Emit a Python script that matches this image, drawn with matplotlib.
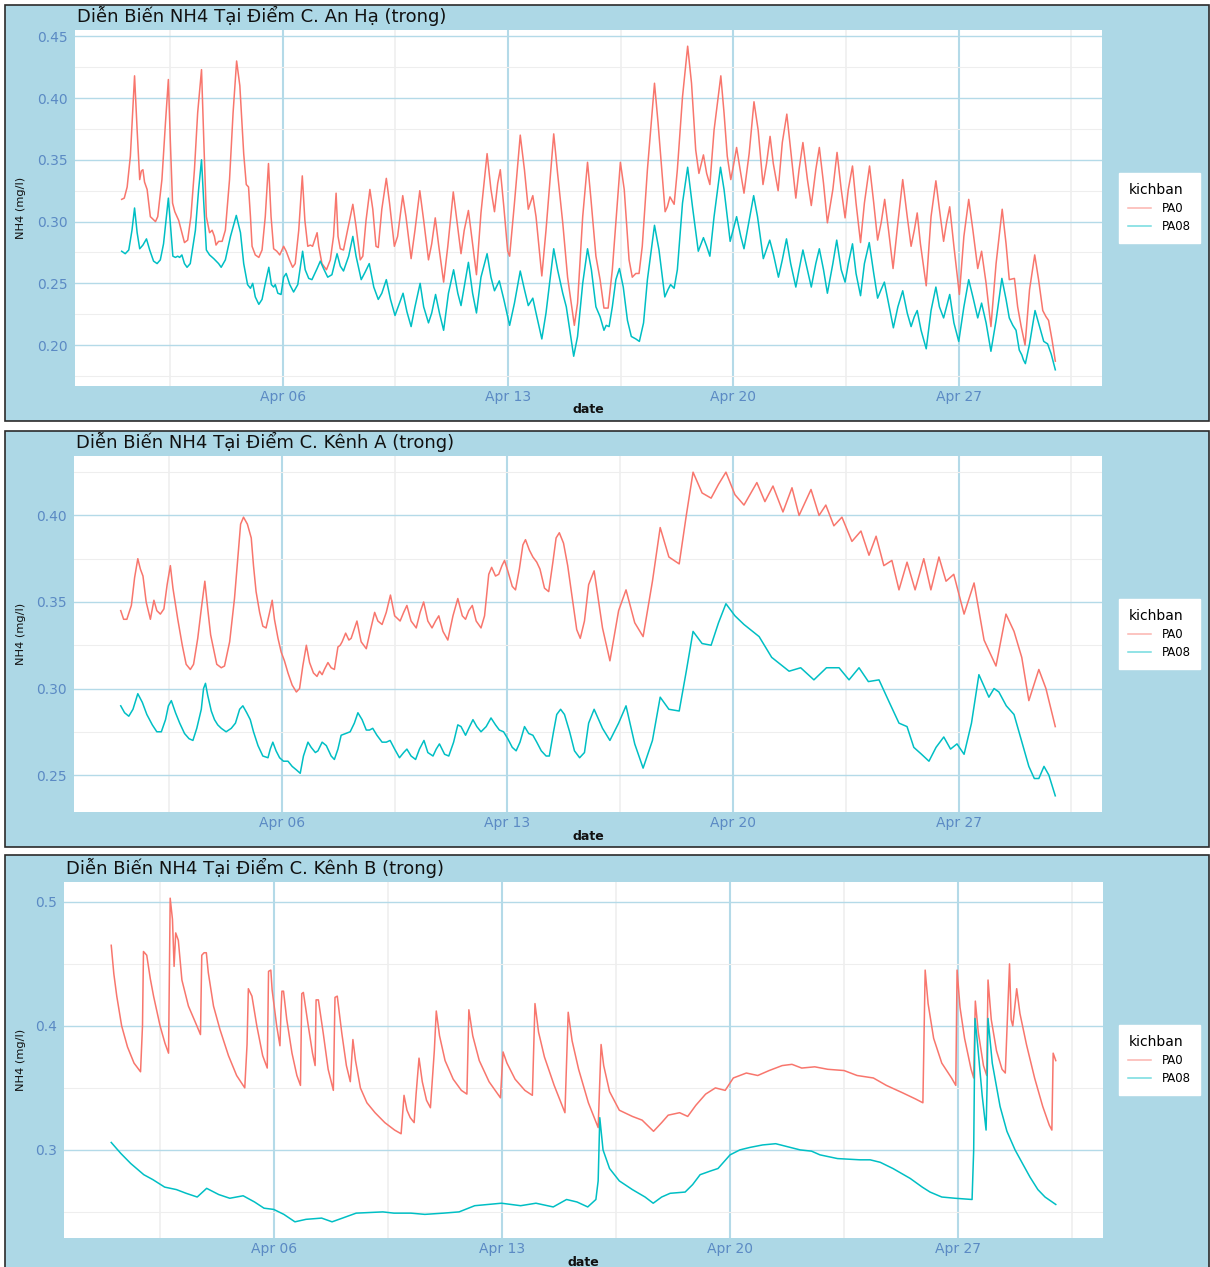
import matplotlib
matplotlib.use("Agg")
import matplotlib.pyplot as plt
import pandas as pd
import matplotlib.dates as mdates
from matplotlib.lines import Line2D
from matplotlib.patches import Rectangle
from matplotlib.ticker import FixedLocator, FormatStrFormatter, MultipleLocator

# (days since 1 April, NH4 mg/l) for each station / scenario
START = pd.Timestamp("2023-04-01")

an_ha_pa0 = [
    (0.00, 0.318), (0.08, 0.319), (0.17, 0.328), (0.27, 0.353), (0.40, 0.418), (0.48, 0.374),
    (0.56, 0.334), (0.61, 0.341), (0.66, 0.342), (0.71, 0.332), (0.79, 0.326), (0.89, 0.304),
    (0.97, 0.302), (1.05, 0.300), (1.12, 0.304), (1.25, 0.334), (1.36, 0.380), (1.45, 0.415),
    (1.51, 0.366), (1.58, 0.315), (1.65, 0.308), (1.77, 0.301), (1.87, 0.291), (1.95, 0.283),
    (2.05, 0.285), (2.15, 0.304), (2.26, 0.342), (2.36, 0.388), (2.48, 0.423), (2.55, 0.366),
    (2.63, 0.304), (2.73, 0.291), (2.81, 0.293), (2.88, 0.288), (2.93, 0.281), (3.01, 0.284),
    (3.12, 0.284), (3.22, 0.293), (3.35, 0.334), (3.46, 0.388), (3.57, 0.430), (3.67, 0.410),
    (3.79, 0.355), (3.87, 0.330), (3.94, 0.328), (4.00, 0.304), (4.05, 0.280), (4.15, 0.273),
    (4.26, 0.271), (4.36, 0.277), (4.46, 0.304), (4.56, 0.347), (4.64, 0.304), (4.72, 0.278),
    (4.82, 0.276), (4.91, 0.273), (5.03, 0.280), (5.11, 0.276), (5.21, 0.269), (5.31, 0.263),
    (5.39, 0.266), (5.50, 0.293), (5.61, 0.337), (5.69, 0.301), (5.78, 0.280), (5.86, 0.281),
    (5.93, 0.280), (6.07, 0.291), (6.12, 0.280), (6.22, 0.266), (6.36, 0.261), (6.48, 0.269),
    (6.58, 0.288), (6.66, 0.323), (6.72, 0.288), (6.79, 0.278), (6.89, 0.277), (7.00, 0.291),
    (7.18, 0.314), (7.28, 0.296), (7.41, 0.269), (7.49, 0.272), (7.59, 0.301), (7.71, 0.326),
    (7.80, 0.310), (7.90, 0.280), (7.97, 0.279), (8.08, 0.310), (8.22, 0.335), (8.32, 0.315),
    (8.47, 0.280), (8.57, 0.288), (8.73, 0.321), (8.83, 0.304), (8.99, 0.270), (9.11, 0.293),
    (9.26, 0.325), (9.38, 0.301), (9.53, 0.269), (9.63, 0.282), (9.74, 0.303), (9.85, 0.280),
    (10.00, 0.251), (10.13, 0.280), (10.30, 0.324), (10.42, 0.299), (10.54, 0.274), (10.64, 0.293),
    (10.77, 0.309), (10.87, 0.288), (11.02, 0.257), (11.16, 0.307), (11.35, 0.355), (11.47, 0.326),
    (11.58, 0.308), (11.68, 0.331), (11.76, 0.342), (11.87, 0.312), (11.99, 0.276), (12.05, 0.272),
    (12.20, 0.315), (12.38, 0.370), (12.51, 0.342), (12.63, 0.310), (12.77, 0.321), (12.87, 0.304),
    (13.05, 0.256), (13.18, 0.293), (13.42, 0.371), (13.54, 0.339), (13.70, 0.299), (13.85, 0.255),
    (14.06, 0.216), (14.16, 0.234), (14.32, 0.304), (14.47, 0.348), (14.57, 0.320), (14.73, 0.272),
    (14.86, 0.253), (14.98, 0.230), (15.11, 0.230), (15.24, 0.261), (15.35, 0.299), (15.49, 0.348),
    (15.61, 0.326), (15.76, 0.269), (15.86, 0.255), (15.97, 0.258), (16.07, 0.258), (16.17, 0.280),
    (16.33, 0.342), (16.55, 0.412), (16.66, 0.380), (16.80, 0.334), (16.88, 0.308), (16.95, 0.312),
    (17.03, 0.320), (17.16, 0.314), (17.26, 0.342), (17.42, 0.401), (17.58, 0.442), (17.70, 0.412),
    (17.83, 0.358), (17.93, 0.339), (18.07, 0.354), (18.17, 0.339), (18.27, 0.330), (18.40, 0.374),
    (18.61, 0.418), (18.71, 0.388), (18.81, 0.353), (18.92, 0.334), (19.00, 0.345), (19.10, 0.360),
    (19.21, 0.342), (19.33, 0.323), (19.49, 0.355), (19.64, 0.397), (19.77, 0.374), (19.92, 0.330),
    (20.03, 0.347), (20.14, 0.369), (20.24, 0.347), (20.39, 0.325), (20.52, 0.364), (20.66, 0.387),
    (20.78, 0.358), (20.94, 0.319), (21.04, 0.342), (21.16, 0.364), (21.30, 0.334), (21.42, 0.313),
    (21.56, 0.342), (21.67, 0.360), (21.80, 0.331), (21.92, 0.299), (22.09, 0.326), (22.22, 0.356),
    (22.35, 0.326), (22.47, 0.303), (22.57, 0.326), (22.70, 0.345), (22.81, 0.315), (22.95, 0.283),
    (23.07, 0.315), (23.23, 0.345), (23.36, 0.315), (23.48, 0.285), (23.59, 0.299), (23.70, 0.318),
    (23.82, 0.293), (23.96, 0.262), (24.11, 0.299), (24.26, 0.334), (24.40, 0.304), (24.52, 0.280),
    (24.62, 0.293), (24.71, 0.307), (24.81, 0.282), (24.99, 0.248), (25.14, 0.304), (25.29, 0.333),
    (25.40, 0.310), (25.53, 0.284), (25.62, 0.299), (25.72, 0.312), (25.85, 0.280), (26.02, 0.241),
    (26.16, 0.288), (26.31, 0.318), (26.44, 0.293), (26.59, 0.262), (26.71, 0.276), (26.85, 0.250),
    (27.00, 0.215), (27.16, 0.266), (27.35, 0.310), (27.47, 0.282), (27.57, 0.253), (27.73, 0.254),
    (27.83, 0.231), (27.94, 0.215), (28.06, 0.200), (28.20, 0.245), (28.36, 0.273), (28.48, 0.253),
    (28.61, 0.228), (28.71, 0.223), (28.79, 0.220), (28.90, 0.204), (29.00, 0.187),
]

an_ha_pa08 = [
    (0.00, 0.276), (0.11, 0.274), (0.22, 0.277), (0.32, 0.293), (0.40, 0.311), (0.48, 0.291),
    (0.56, 0.278), (0.66, 0.281), (0.77, 0.286), (0.87, 0.277), (0.99, 0.268), (1.10, 0.266),
    (1.20, 0.269), (1.30, 0.282), (1.45, 0.319), (1.51, 0.299), (1.59, 0.272), (1.67, 0.271),
    (1.74, 0.272), (1.80, 0.271), (1.87, 0.273), (1.95, 0.266), (2.03, 0.263), (2.13, 0.266),
    (2.29, 0.293), (2.39, 0.326), (2.48, 0.350), (2.55, 0.315), (2.63, 0.277), (2.73, 0.273),
    (2.86, 0.270), (3.01, 0.266), (3.09, 0.263), (3.22, 0.269), (3.38, 0.288), (3.56, 0.305),
    (3.69, 0.291), (3.79, 0.266), (3.91, 0.249), (4.00, 0.246), (4.07, 0.250), (4.15, 0.239),
    (4.26, 0.233), (4.36, 0.237), (4.46, 0.250), (4.57, 0.263), (4.65, 0.249), (4.72, 0.247),
    (4.77, 0.249), (4.85, 0.242), (4.95, 0.241), (5.03, 0.255), (5.11, 0.258), (5.22, 0.249),
    (5.34, 0.243), (5.47, 0.249), (5.62, 0.276), (5.70, 0.261), (5.81, 0.254), (5.91, 0.253),
    (6.07, 0.262), (6.17, 0.268), (6.27, 0.262), (6.40, 0.255), (6.53, 0.257), (6.69, 0.274),
    (6.79, 0.264), (6.89, 0.260), (7.05, 0.272), (7.18, 0.288), (7.28, 0.272), (7.44, 0.253),
    (7.56, 0.259), (7.69, 0.266), (7.83, 0.247), (7.97, 0.237), (8.08, 0.242), (8.22, 0.253),
    (8.35, 0.237), (8.49, 0.224), (8.63, 0.234), (8.74, 0.242), (8.86, 0.227), (8.99, 0.215),
    (9.11, 0.231), (9.27, 0.250), (9.38, 0.231), (9.53, 0.218), (9.63, 0.226), (9.75, 0.241),
    (9.87, 0.226), (10.00, 0.212), (10.15, 0.242), (10.31, 0.261), (10.44, 0.242), (10.54, 0.232),
    (10.64, 0.247), (10.77, 0.267), (10.90, 0.242), (11.02, 0.226), (11.16, 0.255), (11.35, 0.274),
    (11.47, 0.255), (11.58, 0.244), (11.73, 0.252), (11.87, 0.237), (12.05, 0.216), (12.20, 0.234),
    (12.38, 0.260), (12.51, 0.245), (12.63, 0.232), (12.77, 0.238), (12.87, 0.226), (13.05, 0.205),
    (13.18, 0.226), (13.42, 0.278), (13.54, 0.261), (13.70, 0.242), (13.81, 0.231), (14.04, 0.191),
    (14.16, 0.207), (14.32, 0.250), (14.47, 0.278), (14.59, 0.261), (14.73, 0.231), (14.86, 0.223),
    (14.98, 0.212), (15.05, 0.216), (15.14, 0.215), (15.24, 0.231), (15.35, 0.253), (15.46, 0.262),
    (15.58, 0.247), (15.71, 0.220), (15.83, 0.207), (15.97, 0.205), (16.08, 0.203), (16.21, 0.218),
    (16.33, 0.253), (16.55, 0.297), (16.69, 0.277), (16.87, 0.239), (16.97, 0.245), (17.05, 0.249),
    (17.16, 0.246), (17.26, 0.261), (17.42, 0.315), (17.58, 0.344), (17.73, 0.312), (17.91, 0.276),
    (18.07, 0.287), (18.17, 0.280), (18.27, 0.272), (18.40, 0.304), (18.60, 0.344), (18.71, 0.326),
    (18.90, 0.284), (19.10, 0.304), (19.23, 0.288), (19.33, 0.278), (19.49, 0.301), (19.63, 0.321),
    (19.75, 0.304), (19.93, 0.270), (20.13, 0.285), (20.24, 0.274), (20.40, 0.255), (20.52, 0.269),
    (20.65, 0.286), (20.78, 0.266), (20.94, 0.247), (21.04, 0.261), (21.16, 0.277), (21.30, 0.261),
    (21.42, 0.247), (21.56, 0.266), (21.67, 0.278), (21.80, 0.261), (21.92, 0.242), (22.09, 0.266),
    (22.21, 0.285), (22.35, 0.261), (22.47, 0.251), (22.57, 0.266), (22.70, 0.282), (22.81, 0.258),
    (22.95, 0.240), (23.07, 0.266), (23.22, 0.283), (23.36, 0.258), (23.48, 0.238), (23.59, 0.245),
    (23.69, 0.251), (23.82, 0.234), (23.97, 0.214), (24.11, 0.231), (24.26, 0.244), (24.40, 0.226),
    (24.52, 0.215), (24.62, 0.223), (24.71, 0.228), (24.83, 0.212), (24.99, 0.197), (25.14, 0.228),
    (25.29, 0.247), (25.40, 0.231), (25.53, 0.222), (25.62, 0.231), (25.72, 0.241), (25.85, 0.218),
    (26.00, 0.203), (26.16, 0.231), (26.31, 0.253), (26.44, 0.239), (26.59, 0.222), (26.71, 0.234),
    (26.85, 0.218), (27.00, 0.195), (27.16, 0.220), (27.34, 0.254), (27.47, 0.237), (27.57, 0.222),
    (27.68, 0.216), (27.78, 0.212), (27.88, 0.196), (27.96, 0.192), (28.01, 0.188), (28.07, 0.185),
    (28.20, 0.201), (28.37, 0.228), (28.51, 0.215), (28.64, 0.203), (28.76, 0.201), (28.87, 0.193),
    (29.00, 0.180),
]

kenh_a_pa0 = [
    (0.00, 0.345), (0.09, 0.340), (0.19, 0.340), (0.33, 0.348), (0.43, 0.364), (0.53, 0.375),
    (0.61, 0.369), (0.69, 0.365), (0.79, 0.350), (0.92, 0.340), (1.03, 0.351), (1.12, 0.345),
    (1.23, 0.343), (1.34, 0.346), (1.44, 0.360), (1.54, 0.371), (1.62, 0.358), (1.77, 0.340),
    (1.91, 0.325), (2.03, 0.314), (2.16, 0.311), (2.26, 0.314), (2.39, 0.329), (2.50, 0.346),
    (2.61, 0.362), (2.70, 0.346), (2.79, 0.331), (2.88, 0.323), (2.98, 0.314), (3.12, 0.312),
    (3.22, 0.313), (3.38, 0.327), (3.53, 0.352), (3.64, 0.377), (3.72, 0.395), (3.81, 0.399),
    (3.93, 0.395), (4.05, 0.387), (4.12, 0.371), (4.20, 0.356), (4.31, 0.344), (4.41, 0.336),
    (4.51, 0.335), (4.62, 0.344), (4.70, 0.351), (4.77, 0.340), (4.88, 0.329), (4.98, 0.321),
    (5.08, 0.316), (5.19, 0.309), (5.32, 0.302), (5.45, 0.298), (5.55, 0.300), (5.65, 0.313),
    (5.76, 0.325), (5.86, 0.315), (5.98, 0.309), (6.09, 0.307), (6.17, 0.310), (6.25, 0.308),
    (6.32, 0.311), (6.43, 0.315), (6.53, 0.312), (6.63, 0.311), (6.74, 0.324), (6.81, 0.325),
    (6.87, 0.327), (6.98, 0.332), (7.08, 0.328), (7.15, 0.329), (7.33, 0.339), (7.46, 0.327),
    (7.62, 0.323), (7.74, 0.333), (7.88, 0.344), (7.98, 0.339), (8.11, 0.337), (8.24, 0.344),
    (8.37, 0.354), (8.50, 0.342), (8.67, 0.339), (8.78, 0.344), (8.88, 0.348), (9.01, 0.339),
    (9.17, 0.335), (9.29, 0.344), (9.40, 0.350), (9.53, 0.339), (9.66, 0.335), (9.77, 0.339),
    (9.87, 0.342), (10.00, 0.333), (10.15, 0.328), (10.31, 0.342), (10.46, 0.352), (10.60, 0.342),
    (10.70, 0.340), (10.80, 0.345), (10.91, 0.348), (11.03, 0.339), (11.18, 0.335), (11.29, 0.342),
    (11.42, 0.366), (11.51, 0.370), (11.63, 0.365), (11.73, 0.366), (11.83, 0.371), (11.91, 0.374),
    (12.01, 0.368), (12.15, 0.359), (12.25, 0.357), (12.37, 0.369), (12.48, 0.383), (12.56, 0.386),
    (12.68, 0.380), (12.79, 0.376), (12.91, 0.373), (13.01, 0.369), (13.15, 0.358), (13.28, 0.356),
    (13.41, 0.373), (13.51, 0.387), (13.61, 0.390), (13.74, 0.384), (13.87, 0.371), (14.03, 0.350),
    (14.15, 0.334), (14.26, 0.329), (14.39, 0.339), (14.52, 0.360), (14.69, 0.368), (14.95, 0.335),
    (15.18, 0.316), (15.45, 0.345), (15.68, 0.357), (15.95, 0.338), (16.21, 0.330), (16.50, 0.362),
    (16.74, 0.393), (17.01, 0.376), (17.33, 0.372), (17.55, 0.400), (17.76, 0.425), (18.04, 0.413),
    (18.32, 0.410), (18.55, 0.418), (18.78, 0.425), (19.06, 0.412), (19.34, 0.406), (19.74, 0.419),
    (19.99, 0.408), (20.24, 0.417), (20.55, 0.402), (20.83, 0.416), (21.05, 0.400), (21.42, 0.415),
    (21.67, 0.400), (21.88, 0.406), (22.13, 0.394), (22.38, 0.399), (22.69, 0.385), (22.97, 0.391),
    (23.22, 0.377), (23.44, 0.388), (23.68, 0.371), (23.93, 0.374), (24.15, 0.357), (24.40, 0.373),
    (24.65, 0.357), (24.92, 0.375), (25.14, 0.357), (25.39, 0.376), (25.61, 0.362), (25.85, 0.366),
    (26.17, 0.343), (26.48, 0.361), (26.79, 0.328), (27.16, 0.313), (27.47, 0.343), (27.72, 0.333),
    (27.96, 0.318), (28.18, 0.293), (28.49, 0.311), (28.71, 0.300), (29.00, 0.278),
]

kenh_a_pa08 = [
    (0.00, 0.290), (0.12, 0.286), (0.25, 0.284), (0.38, 0.288), (0.53, 0.297), (0.67, 0.292),
    (0.81, 0.285), (0.98, 0.279), (1.12, 0.275), (1.26, 0.275), (1.39, 0.282), (1.48, 0.290),
    (1.57, 0.293), (1.70, 0.286), (1.83, 0.280), (1.98, 0.274), (2.12, 0.271), (2.24, 0.270),
    (2.36, 0.277), (2.50, 0.288), (2.57, 0.300), (2.63, 0.303), (2.70, 0.296), (2.81, 0.287),
    (2.91, 0.282), (3.01, 0.279), (3.12, 0.277), (3.27, 0.275), (3.43, 0.277), (3.56, 0.280),
    (3.69, 0.288), (3.79, 0.290), (3.91, 0.286), (4.02, 0.282), (4.12, 0.275), (4.26, 0.267),
    (4.41, 0.261), (4.57, 0.260), (4.64, 0.265), (4.72, 0.269), (4.82, 0.264), (4.93, 0.260),
    (5.05, 0.258), (5.19, 0.258), (5.32, 0.255), (5.45, 0.253), (5.57, 0.251), (5.67, 0.261),
    (5.81, 0.269), (5.91, 0.266), (6.04, 0.263), (6.12, 0.264), (6.25, 0.269), (6.38, 0.267),
    (6.53, 0.261), (6.63, 0.259), (6.74, 0.265), (6.84, 0.273), (6.98, 0.274), (7.12, 0.275),
    (7.25, 0.280), (7.36, 0.286), (7.49, 0.282), (7.62, 0.276), (7.72, 0.276), (7.82, 0.277),
    (7.95, 0.273), (8.11, 0.269), (8.24, 0.269), (8.36, 0.270), (8.50, 0.265), (8.65, 0.260),
    (8.78, 0.263), (8.88, 0.265), (9.01, 0.261), (9.15, 0.259), (9.27, 0.265), (9.41, 0.270),
    (9.53, 0.263), (9.69, 0.261), (9.79, 0.265), (9.89, 0.268), (10.05, 0.262), (10.18, 0.261),
    (10.33, 0.269), (10.46, 0.279), (10.56, 0.278), (10.70, 0.273), (10.80, 0.277), (10.93, 0.282),
    (11.05, 0.278), (11.18, 0.275), (11.34, 0.278), (11.49, 0.283), (11.63, 0.279), (11.75, 0.276),
    (11.88, 0.275), (12.01, 0.271), (12.15, 0.266), (12.27, 0.264), (12.39, 0.269), (12.53, 0.278),
    (12.66, 0.274), (12.79, 0.273), (12.91, 0.269), (13.05, 0.264), (13.20, 0.261), (13.30, 0.261),
    (13.43, 0.275), (13.53, 0.285), (13.65, 0.288), (13.77, 0.285), (13.93, 0.275), (14.08, 0.264),
    (14.24, 0.260), (14.39, 0.263), (14.52, 0.280), (14.69, 0.288), (14.95, 0.277), (15.18, 0.270),
    (15.45, 0.280), (15.68, 0.290), (15.95, 0.268), (16.21, 0.254), (16.50, 0.270), (16.74, 0.295),
    (17.01, 0.288), (17.33, 0.287), (17.55, 0.310), (17.76, 0.333), (18.04, 0.326), (18.32, 0.325),
    (18.55, 0.338), (18.78, 0.349), (19.06, 0.342), (19.34, 0.337), (19.81, 0.330), (20.20, 0.318),
    (20.74, 0.310), (21.10, 0.312), (21.51, 0.305), (21.90, 0.312), (22.29, 0.312), (22.60, 0.305),
    (22.91, 0.312), (23.20, 0.304), (23.53, 0.305), (23.85, 0.292), (24.15, 0.280), (24.40, 0.278),
    (24.61, 0.266), (24.85, 0.262), (25.08, 0.258), (25.30, 0.266), (25.54, 0.272), (25.75, 0.265),
    (25.95, 0.268), (26.17, 0.262), (26.40, 0.280), (26.63, 0.308), (26.94, 0.295), (27.10, 0.300),
    (27.25, 0.298), (27.48, 0.290), (27.72, 0.285), (27.95, 0.270), (28.18, 0.255), (28.35, 0.248),
    (28.49, 0.248), (28.65, 0.255), (28.80, 0.250), (29.00, 0.238),
]

kenh_b_pa0 = [
    (0.00, 0.465), (0.08, 0.442), (0.17, 0.424), (0.32, 0.400), (0.50, 0.383), (0.70, 0.370),
    (0.90, 0.363), (0.96, 0.400), (0.99, 0.460), (1.09, 0.457), (1.20, 0.438), (1.30, 0.424),
    (1.50, 0.400), (1.65, 0.386), (1.76, 0.378), (1.79, 0.450), (1.81, 0.503), (1.88, 0.486),
    (1.93, 0.448), (1.98, 0.475), (2.06, 0.469), (2.17, 0.437), (2.37, 0.416), (2.63, 0.400),
    (2.74, 0.393), (2.78, 0.457), (2.85, 0.459), (2.92, 0.459), (2.98, 0.443), (3.14, 0.416),
    (3.34, 0.397), (3.60, 0.376), (3.85, 0.360), (4.10, 0.350), (4.17, 0.385), (4.21, 0.430),
    (4.32, 0.424), (4.47, 0.400), (4.65, 0.376), (4.79, 0.366), (4.83, 0.444), (4.90, 0.445),
    (4.94, 0.429), (5.08, 0.400), (5.18, 0.384), (5.21, 0.410), (5.24, 0.428), (5.29, 0.428),
    (5.39, 0.405), (5.55, 0.378), (5.70, 0.360), (5.81, 0.352), (5.85, 0.426), (5.90, 0.427),
    (6.05, 0.400), (6.18, 0.378), (6.26, 0.368), (6.29, 0.421), (6.36, 0.421), (6.51, 0.394),
    (6.66, 0.365), (6.82, 0.348), (6.87, 0.423), (6.94, 0.424), (7.08, 0.394), (7.22, 0.368),
    (7.34, 0.355), (7.42, 0.389), (7.50, 0.372), (7.65, 0.350), (7.85, 0.338), (8.10, 0.330),
    (8.40, 0.322), (8.70, 0.316), (8.90, 0.313), (8.99, 0.344), (9.08, 0.332), (9.18, 0.326),
    (9.30, 0.322), (9.36, 0.345), (9.45, 0.374), (9.55, 0.355), (9.68, 0.340), (9.80, 0.334),
    (9.92, 0.380), (9.98, 0.412), (10.08, 0.392), (10.25, 0.372), (10.50, 0.357), (10.75, 0.348),
    (10.92, 0.345), (10.98, 0.413), (11.10, 0.392), (11.30, 0.372), (11.60, 0.355), (11.95, 0.342),
    (12.03, 0.379), (12.15, 0.370), (12.40, 0.357), (12.70, 0.348), (12.93, 0.344), (13.01, 0.418),
    (13.12, 0.395), (13.30, 0.375), (13.60, 0.352), (13.93, 0.330), (14.03, 0.411), (14.15, 0.388),
    (14.35, 0.365), (14.65, 0.338), (14.95, 0.318), (15.04, 0.385), (15.12, 0.368), (15.30, 0.347),
    (15.60, 0.332), (16.00, 0.327), (16.30, 0.324), (16.65, 0.315), (16.90, 0.322), (17.10, 0.328),
    (17.45, 0.330), (17.70, 0.327), (17.95, 0.336), (18.25, 0.345), (18.55, 0.350), (18.85, 0.348),
    (19.10, 0.358), (19.50, 0.362), (19.85, 0.360), (20.20, 0.364), (20.60, 0.368), (20.90, 0.369),
    (21.20, 0.366), (21.60, 0.367), (22.00, 0.365), (22.50, 0.364), (22.90, 0.360), (23.40, 0.358),
    (23.80, 0.352), (24.30, 0.346), (24.70, 0.341), (24.92, 0.338), (24.99, 0.445), (25.08, 0.418),
    (25.25, 0.390), (25.50, 0.370), (25.80, 0.358), (25.93, 0.352), (25.97, 0.445), (26.06, 0.415),
    (26.20, 0.390), (26.40, 0.365), (26.48, 0.358), (26.53, 0.420), (26.62, 0.395), (26.78, 0.368),
    (26.88, 0.360), (26.92, 0.437), (27.02, 0.405), (27.18, 0.380), (27.35, 0.365), (27.45, 0.362),
    (27.52, 0.410), (27.58, 0.450), (27.63, 0.405), (27.68, 0.400), (27.80, 0.430), (27.90, 0.410),
    (28.10, 0.385), (28.35, 0.358), (28.60, 0.335), (28.80, 0.320), (28.88, 0.316), (28.92, 0.378),
    (29.00, 0.372),
]

kenh_b_pa08 = [
    (0.00, 0.306), (0.30, 0.297), (0.60, 0.289), (1.00, 0.280), (1.28, 0.276), (1.64, 0.270),
    (2.00, 0.268), (2.30, 0.265), (2.64, 0.262), (2.93, 0.269), (3.30, 0.264), (3.64, 0.261),
    (4.05, 0.263), (4.40, 0.258), (4.69, 0.253), (4.99, 0.252), (5.30, 0.248), (5.64, 0.242),
    (5.98, 0.244), (6.46, 0.245), (6.78, 0.242), (7.10, 0.245), (7.52, 0.249), (8.34, 0.250),
    (8.68, 0.249), (9.20, 0.249), (9.63, 0.248), (10.20, 0.249), (10.68, 0.250), (11.16, 0.255),
    (11.98, 0.257), (12.57, 0.255), (13.04, 0.257), (13.57, 0.254), (13.98, 0.260), (14.30, 0.258),
    (14.63, 0.254), (14.88, 0.260), (14.95, 0.275), (15.00, 0.326), (15.10, 0.300), (15.30, 0.285),
    (15.60, 0.275), (16.00, 0.268), (16.39, 0.262), (16.64, 0.257), (16.90, 0.262), (17.16, 0.265),
    (17.62, 0.266), (17.85, 0.272), (18.08, 0.280), (18.40, 0.283), (18.63, 0.285), (19.00, 0.296),
    (19.30, 0.300), (19.61, 0.302), (20.00, 0.304), (20.40, 0.305), (20.70, 0.303), (21.15, 0.300),
    (21.50, 0.299), (21.76, 0.296), (22.30, 0.293), (22.99, 0.292), (23.30, 0.292), (23.61, 0.290),
    (24.00, 0.285), (24.53, 0.277), (24.90, 0.270), (25.14, 0.266), (25.50, 0.262), (25.91, 0.261),
    (26.43, 0.260), (26.48, 0.300), (26.52, 0.406), (26.60, 0.385), (26.74, 0.344), (26.86, 0.316),
    (26.89, 0.350), (26.92, 0.406), (27.05, 0.370), (27.29, 0.335), (27.50, 0.315), (27.75, 0.300),
    (28.00, 0.288), (28.21, 0.278), (28.45, 0.268), (28.67, 0.262), (29.00, 0.256),
]

PANELS = [
    dict(title="Diễn Biến NH4 Tại Điểm C. An Hạ (trong)", pa0=an_ha_pa0, pa08=an_ha_pa08,
         frame=(5, 5, 1209, 421), area=(75, 30, 1102, 386), step=0.05, fmt="%.2f"),
    dict(title="Diễn Biến NH4 Tại Điểm C. Kênh A (trong)", pa0=kenh_a_pa0, pa08=kenh_a_pa08,
         frame=(5, 431, 1209, 847), area=(74, 456, 1102, 812), step=0.05, fmt="%.2f"),
    dict(title="Diễn Biến NH4 Tại Điểm C. Kênh B (trong)", pa0=kenh_b_pa0, pa08=kenh_b_pa08,
         frame=(5, 855, 1209, 1275), area=(64, 882, 1103, 1238), step=0.1, fmt="%.1f"),
]

W, H = 1210, 1267
BG = "#ADD8E6"
GRID_MAJOR = "#B4DAE8"
GRID_MINOR = "#EEEEEE"
RED = "#F8766D"
TEAL = "#00BFC4"
TICK = "#5B8AC4"


def unpack(pairs):
    days = [d for d, _ in pairs]
    vals = [v for _, v in pairs]
    return START + pd.to_timedelta(days, unit="D"), vals


def fig_rect(x0, y0, x1, y1):
    return [x0 / W, 1 - y1 / H, (x1 - x0) / W, (y1 - y0) / H]


def draw_panel(fig, p):
    fx0, fy0, fx1, fy1 = p["frame"]
    fig.add_artist(Rectangle((fx0 / W, 1 - fy1 / H), (fx1 - fx0) / W, (fy1 - fy0) / H,
                             transform=fig.transFigure, facecolor=BG,
                             edgecolor="#2b2b2b", lw=1.2, zorder=-5))
    ax0, ay0, ax1, ay1 = p["area"]
    ax = fig.add_axes(fig_rect(ax0, ay0, ax1, ay1))
    ax.set_facecolor("white")
    for s in ax.spines.values():
        s.set_visible(False)

    t, v = unpack(p["pa0"])
    ax.plot(t, v, color=RED, lw=1.1, solid_joinstyle="round")
    t, v = unpack(p["pa08"])
    ax.plot(t, v, color=TEAL, lw=1.1, solid_joinstyle="round")

    # weekly breaks with minor lines half-way between them
    majors = [START + pd.Timedelta(days=d) for d in (5, 12, 19, 26)]
    minors = [m - pd.Timedelta(hours=84) for m in majors] + [majors[-1] + pd.Timedelta(hours=84)]
    ax.xaxis.set_major_locator(FixedLocator(mdates.date2num(majors)))
    ax.xaxis.set_minor_locator(FixedLocator(mdates.date2num(minors)))
    ax.xaxis.set_major_formatter(mdates.DateFormatter("%b %d"))
    ax.yaxis.set_major_locator(MultipleLocator(p["step"]))
    ax.yaxis.set_minor_locator(MultipleLocator(p["step"] / 2))
    ax.yaxis.set_major_formatter(FormatStrFormatter(p["fmt"]))

    ax.set_axisbelow(True)
    ax.xaxis.grid(True, which="major", color=GRID_MAJOR, lw=1.5)
    ax.yaxis.grid(True, which="major", color=GRID_MAJOR, lw=1.0)
    ax.xaxis.grid(True, which="minor", color=GRID_MINOR, lw=1.1)
    ax.yaxis.grid(True, which="minor", color=GRID_MINOR, lw=0.8)
    ax.tick_params(which="both", length=0)
    ax.tick_params(axis="x", pad=3, labelsize=10, labelcolor=TICK)
    ax.tick_params(axis="y", pad=5, labelsize=10, labelcolor=TICK)

    width = ax1 - ax0
    height = ay1 - ay0
    ax.set_ylabel("NH4 (mg/l)", fontsize=8.2, color="#111111")
    ax.yaxis.set_label_coords((21 - ax0) / width, 0.5)
    ax.yaxis.label.set_va("center")
    ax.set_xlabel("date", fontsize=9, fontweight="bold", color="#111111")
    ax.xaxis.set_label_coords(0.5, -24 / height)
    ax.xaxis.label.set_va("center")

    fig.text(ax0 / W + 2 / W, 1 - (ay0 - 14) / H, p["title"], fontsize=13,
             color="#111111", ha="left", va="center")

    handles = [Line2D([0], [0], color=RED, lw=1.1), Line2D([0], [0], color=TEAL, lw=1.1)]
    leg = ax.legend(handles, ["PA0", "PA08"], title="kichban", loc="center left",
                    bbox_to_anchor=(1119 / W, 1 - (ay0 + ay1) / 2 / H),
                    bbox_transform=fig.transFigure, frameon=True, fancybox=False,
                    facecolor="white", edgecolor="white", framealpha=1.0,
                    fontsize=8.5, title_fontsize=10, handlelength=1.9,
                    handletextpad=0.9, labelspacing=0.45, borderpad=0.8,
                    borderaxespad=0, alignment="left")
    for h in leg.get_lines():
        h.set_alpha(0.55)
    return ax


fig = plt.figure(figsize=(W / 100, H / 100), dpi=100)
fig.patch.set_facecolor("white")
for panel in PANELS:
    draw_panel(fig, panel)

fig.savefig("out.png", dpi=100)
